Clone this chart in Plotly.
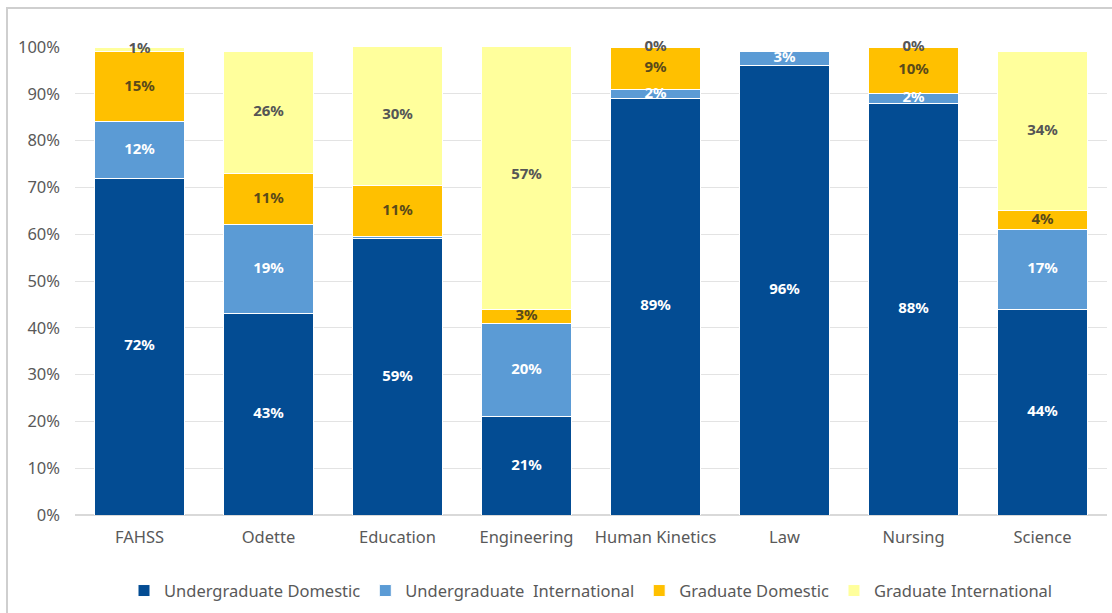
import plotly.graph_objects as go

# Faculty enrolment mix (share of students, %)
faculties = ["FAHSS", "Odette", "Education", "Engineering",
             "Human Kinetics", "Law", "Nursing", "Science"]
undergrad_domestic = [72, 43, 59, 21, 89, 96, 88, 44]
undergrad_international = [12, 19, 0.5, 20, 2, 3, 2, 17]
grad_domestic = [15, 11, 11, 3, 9, 0, 10, 4]
grad_international = [1, 26, 30, 57, 0, 0, 0, 34]

series_names = ["Undergraduate Domestic", "Undergraduate  International",
                "Graduate Domestic", "Graduate International"]
series_values = [undergrad_domestic, undergrad_international,
                 grad_domestic, grad_international]
series_colors = ["#034C93", "#5B9BD5", "#FFC000", "#FFFF9C"]
label_colors = ["#FFFFFF", "#FFFFFF", "#5A4A1A", "#555555"]

# segments that carry no value label
unlabeled = {("Education", 1), ("Law", 2), ("Law", 3)}

fig = go.Figure()
for name, vals, col in zip(series_names, series_values, series_colors):
    fig.add_trace(go.Bar(
        x=faculties, y=vals, name=name,
        marker=dict(color=col, line=dict(color="#FFFFFF", width=1)),
        hoverinfo="skip",
    ))

# value labels centred in each stacked segment
lx, ly, lt, lc = [], [], [], []
for i, fac in enumerate(faculties):
    base = 0
    for s, vals in enumerate(series_values):
        v = vals[i]
        if (fac, s) not in unlabeled:
            lx.append(fac)
            ly.append(base + v / 2)
            lt.append(f"{round(v)}%")
            lc.append(label_colors[s])
        base += v

fig.add_trace(go.Scatter(
    x=lx, y=ly, text=lt, mode="text", showlegend=False, hoverinfo="skip",
    cliponaxis=False,
    textfont=dict(family="Noto Sans", size=15, color=lc, weight="bold"),
))

fig.update_layout(
    width=1112, height=613,
    barmode="stack", bargap=0.30,
    paper_bgcolor="white", plot_bgcolor="white",
    margin=dict(l=75, r=5, t=47, b=98),
    font=dict(family="Noto Sans", size=16, color="#595959"),
    legend=dict(orientation="h", x=0.5, xanchor="center", y=-0.162,
                yanchor="middle", font=dict(size=16.5, color="#595959"),
                traceorder="normal", itemwidth=30),
    showlegend=True,
    xaxis=dict(showgrid=False, showline=False, ticks="",
               tickfont=dict(size=16.5, color="#595959"),
               ticklabelstandoff=10),
    yaxis=dict(range=[0, 100], dtick=10, ticksuffix="%",
               showgrid=True, gridcolor="#E3E3E3", gridwidth=1,
               zeroline=True, zerolinecolor="#D9D9D9", showline=False,
               tickfont=dict(size=16.5, color="#595959"),
               ticklabelstandoff=14),
    shapes=[dict(type="rect", xref="paper", yref="paper",
                 x0=-0.0659, x1=1.2, y0=-0.5, y1=1.0833,
                 line=dict(color="#CFCFCF", width=2), layer="below")],
)

fig.write_html("out.html")
